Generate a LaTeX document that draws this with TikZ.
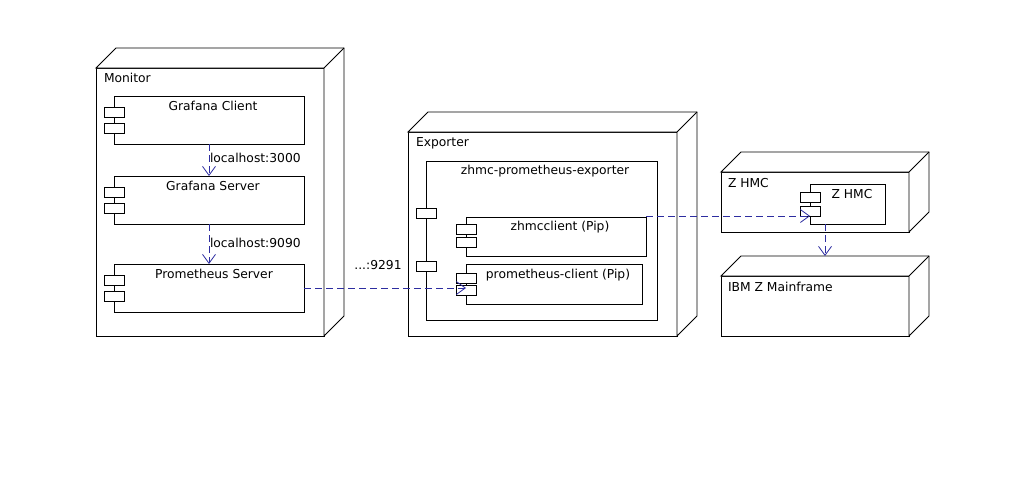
\documentclass[tikz,border=0pt]{standalone}
\usepackage{fontspec}
\setmainfont{DejaVu Sans}
\usetikzlibrary{arrows.meta,calc,shadows}
\definecolor{depblue}{RGB}{45,45,160}
\newcommand\nodebox[5]{%
  \node[box, minimum width=#4, minimum height=#5] (#1) at (#2,#3) {};
  \draw[fill=white] (#1.north west) -- ++(20,-20) -- ++(#4,0) -- ++(0,#5) -- (#1.south east) -- (#1.north east) -- cycle;
  \draw (#1.north east) -- ++(20,-20);
}
\newcommand\compbox[7]{%
  \node[box, comp shadow, minimum width=#4, minimum height=#5] (#1) at (#2,#3) {};
  \node[icon] (#1-i1) at ([xshift=-10pt,yshift=-#6pt]#1.north west) {};
  \node[icon] (#1-i2) at ([xshift=-10pt,yshift=-#7pt]#1.north west) {};
}
\begin{document}
\begin{tikzpicture}[x=1pt,y=-1pt,line width=0.9pt,
  box/.style={draw, fill=white, inner sep=0pt, outer sep=0pt, anchor=north west},
  comp shadow/.style={drop shadow={shadow xshift=1.2pt, shadow yshift=-1.2pt, fill=black!45, opacity=1}},
  icon/.style={draw, fill=white, inner sep=0pt, outer sep=0pt, anchor=north west, minimum width=20, minimum height=10},
  txt/.style={font=\fontsize{12.3}{14}\selectfont, inner sep=0pt, outer sep=0pt},
  dep/.style={draw=depblue, line width=0.9pt, dash pattern=on 7pt off 4pt, -{Straight Barb[length=9pt,width=13pt,line width=0.8pt]}}]
\useasboundingbox (0,0) rectangle (1024,480);
\fill[white] (0,0) rectangle (1024,480);

% Monitor
\nodebox{monitor}{96}{68}{228}{268}
\node[txt, anchor=west] (monitorlbl) at (104,78) {Monitor};
\compbox{gc}{114}{96}{190}{48}{11}{27}
\node[txt] (gclbl) at (213,106) {Grafana Client};
\compbox{gs}{114}{176}{190}{48}{11}{27}
\node[txt] (gslbl) at (213,186) {Grafana Server};
\compbox{ps}{114}{264}{190}{48}{11}{27}
\node[txt] (pslbl) at (214,274) {Prometheus Server};

\draw[dep] (gc.south) -- (gs.north);
\node[txt, anchor=west] (l3000) at (210,158) {localhost:3000};
\draw[dep] (gs.south) -- (ps.north);
\node[txt, anchor=west] (l9090) at (210,243) {localhost:9090};

% Exporter
\nodebox{exporter}{408}{132}{269}{204}
\node[txt, anchor=west] (exporterlbl) at (416,143) {Exporter};
\node[box, comp shadow, minimum width=231, minimum height=159] (zpe) at (426,161) {};
\node[txt] (zpelbl) at (545,171) {zhmc-prometheus-exporter};
\node[icon] (port1) at (416,208) {};
\node[icon] (port2) at (416,261) {};
\compbox{zc}{466}{217}{180}{39}{7}{20}
\node[txt] (zclbl) at (560,227) {zhmcclient (Pip)};
\compbox{pc}{466}{264}{176}{40}{9}{21}
\node[txt] (pclbl) at (558,275) {prometheus-client (Pip)};

% Z HMC
\nodebox{zhmc}{721}{172}{188}{60}
\node[txt, anchor=west] (zhmclbl) at (728,183) {Z HMC};
\compbox{zhc}{810}{184}{75}{40}{8}{22}
\node[txt] (zhclbl) at (852,194) {Z HMC};

% IBM Z Mainframe
\nodebox{ibm}{721}{276}{188}{60}
\node[txt, anchor=west] (ibmlbl) at (728,287) {IBM Z Mainframe};

% connectors
\coordinate (pctip) at (ps.east -| pc.west);
\draw[dep] (ps.east) -- (pctip);
\node[txt] (p9291) at (378,265) {...:9291};
\coordinate (zctip) at ($(zc.north east)+(0,-1)$);
\draw[dep] (zctip) -- (zctip -| zhc.west);
\coordinate (zhcsrc) at ($(zhc.south west)+(15,0)$);
\coordinate (ibmtop) at ($(ibm.north west)+(20,-20)$);
\draw[dep] (zhcsrc) -- (zhcsrc |- ibmtop);
\end{tikzpicture}
\end{document}
